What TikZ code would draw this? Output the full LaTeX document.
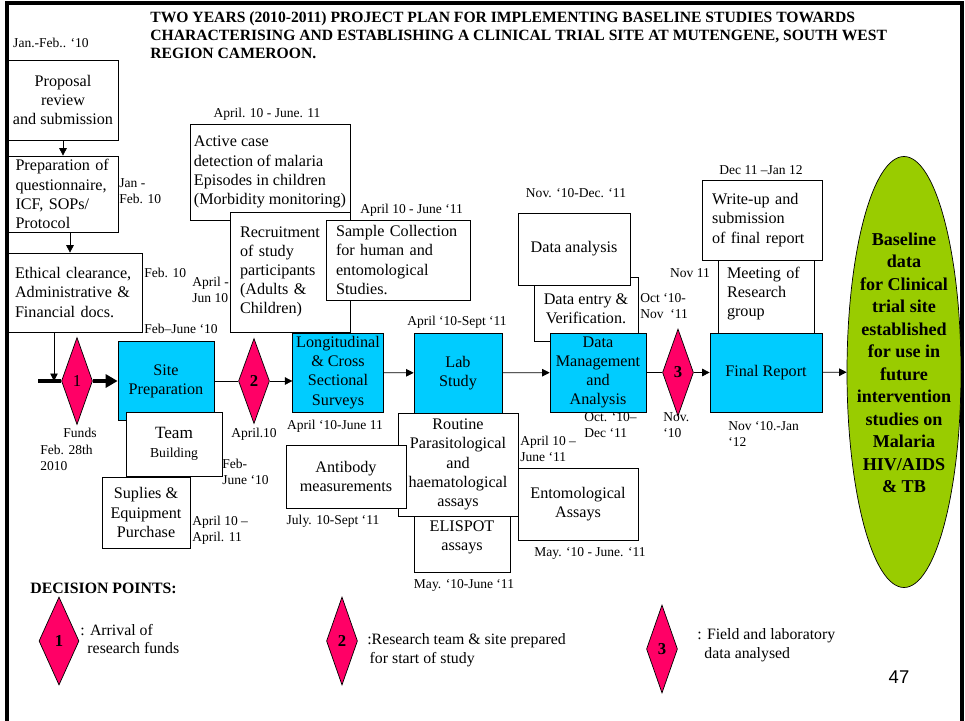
\documentclass[tikz,border=0pt]{standalone}
\usepackage{fontspec}
\setmainfont{Liberation Serif}
\newfontfamily\pagefont{Liberation Sans}
\usetikzlibrary{arrows.meta,shapes.geometric}

\definecolor{stagecyan}{HTML}{00CCFF}
\definecolor{pointred}{HTML}{FF0066}
\definecolor{goalgreen}{HTML}{99CC00}

\begin{document}
\begin{tikzpicture}[
    x=0.02cm, y=-0.02cm,
    >={Triangle[length=1.5mm,width=1.5mm]},
    dims/.style 2 args={minimum width=#1*0.02cm, minimum height=#2*0.02cm},
    box/.style={draw, fill=white, inner sep=2pt, align=center, font=\fontsize{9.2}{10.9}\selectfont},
    stage/.style={box, fill=stagecyan},
    point/.style={diamond, draw, fill=pointred, inner sep=0pt, font=\bfseries\fontsize{9.5}{11}\selectfont},
    goal/.style={ellipse, draw, fill=goalgreen, inner sep=0pt},
    date/.style={inner sep=0pt, align=left, font=\fontsize{7.7}{9.1}\selectfont},
    legend/.style={inner sep=0pt, align=left, anchor=west, font=\fontsize{9}{10.8}\selectfont}
]
\useasboundingbox (0,0) rectangle (965,721);
\draw[line width=2pt] (7,721) -- (7,3) -- (962,3) -- (962,721);

% title
\node[anchor=west, align=left, inner sep=0pt, font=\bfseries\fontsize{8.9}{10.2}\selectfont] (title) at (150,35)
    {TWO YEARS (2010-2011) PROJECT PLAN FOR IMPLEMENTING BASELINE STUDIES TOWARDS\\
     CHARACTERISING AND ESTABLISHING A CLINICAL TRIAL SITE AT MUTENGENE, SOUTH WEST\\
     REGION CAMEROON.};

% preparation column
\node[box, dims={110}{80}] (prop) at (63,100) {Proposal\\review\\and submission};
\node[box, dims={110}{76}, align=left, text width=1.9cm] (prep) at (63,194) {Preparation of\\questionnaire,\\ICF, SOPs/\\Protocol};
\node[box, dims={134}{79}, align=left, text width=2.4cm] (ethic) at (75,292.5) {Ethical clearance,\\Administrative \&\\Financial docs.};
\node[date] (dprop) at (51,43) {Jan.-Feb.. ‘10};
\node[date, anchor=west] (dprep) at (119,191) {Jan -\\Feb. 10};
\node[date, anchor=west] (dethic) at (144,273) {Feb. 10};
\node[date, anchor=west] (dsite) at (144,329) {Feb–June ‘10};

% site preparation
\node[stage, dims={96}{79}] (site) at (166,381) {Site\\Preparation};
\node[box, dims={96}{64}] (team) at (174,444) {{\fontsize{9.8}{11.5}\selectfont Team}\\{\fontsize{7.8}{9.5}\selectfont Building}};
\node[box, dims={88}{71}] (sup) at (146,512.5) {Suplies \&\\Equipment\\Purchase};
\node[date] (dfunds) at (80,433) {Funds};
\node[date, anchor=west] (dfeb) at (40,458) {Feb. 28th\\2010};
\node[date, anchor=west] (dteam) at (222,472) {Feb-\\June ‘10};
\node[date, anchor=west] (dsup) at (192,530) {April 10 –\\April. 11};
\node[date] (dtwo) at (254,434) {April.10};

% field work
\node[box, dims={160}{96}, align=left] (active) at (270,172) {Active case\\detection of malaria\\Episodes in children\\(Morbidity monitoring)};
\node[box, dims={120}{120}, align=left, text width=2.0cm] (recruit) at (290,272) {Recruitment\\of study\\participants\\(Adults \&\\Children)};
\node[box, dims={144}{80}, align=left, text width=2.48cm] (sample) at (398,260) {Sample Collection\\for human and\\entomological\\Studies.};
\node[stage, dims={88}{79}] (long) at (338,372.5) {Longitudinal\\\& Cross\\Sectional\\Surveys};
\node[date] (dactive) at (267,114) {April. 10 - June. 11};
\node[date, anchor=west] (drecruit) at (192,290) {April -\\Jun 10};
\node[date, anchor=west] (dsample) at (360,210) {April 10 - June ‘11};
\node[date] (dlong) at (335,426) {April ‘10-June 11};

% laboratory
\node[stage, dims={88}{80}] (lab) at (458,373) {Lab\\Study};
\node[box, dims={96}{70}] (elispot) at (462,537) {ELISPOT\\assays};
\node[box, dims={120}{103}] (routine) at (458,464.5) {Routine\\Parasitological\\and\\haematological\\assays};
\node[box, dims={120}{63}] (antibody) at (346,476.5) {Antibody\\measurements};
\node[box, dims={120}{72}] (ento) at (578,504) {Entomological\\Assays};
\node[date] (dlab) at (457,322) {April ‘10-Sept ‘11};
\node[date] (dantibody) at (333,521) {July. 10-Sept ‘11};
\node[date] (delispot) at (464,585) {May. ‘10-June ‘11};
\node[date, anchor=west] (droutine) at (520,449) {April 10 –\\June ‘11};
\node[date] (dento) at (590,553) {May. ‘10 - June. ‘11};

% data
\node[box, dims={104}{64}] (entry) at (586,309) {Data entry \&\\Verification.};
\node[box, dims={112}{72}] (analysis) at (574,249) {Data analysis};
\node[stage, dims={96}{79}] (dm) at (598,372.5) {Data\\Management\\and\\Analysis};
\node[date] (danalysis) at (576,193) {Nov. ‘10-Dec. ‘11};
\node[date, anchor=west] (dentry) at (640,306) {Oct ‘10-\\Nov \ ‘11};
\node[date, anchor=west] (ddm) at (584,425) {Oct. ‘10–\\Dec ‘11};
\node[date] (dmeet) at (690,273) {Nov 11};
\node[date, anchor=west] (dthree) at (663,425) {Nov.\\‘10};

% report
\node[box, dims={96}{79}, align=left, text width=1.56cm] (meet) at (766,293.5) {Meeting of\\Research\\group};
\node[box, dims={120}{80}, align=left, text width=2.0cm] (write) at (762,220) {Write-up and\\submission\\of final report};
\node[stage, dims={112}{79}] (final) at (766,372.5) {Final Report};
\node[date] (dwrite) at (761,170) {Dec 11 –Jan 12};
\node[date, anchor=west] (dfinal) at (728,434) {Nov ‘10.-Jan\\‘12};

\node[goal, dims={114}{431}] (goal) at (904,372) {};
\node[align=center, inner sep=0pt, font=\bfseries\fontsize{10.3}{12.8}\selectfont] (goaltext) at (904,363)
    {Baseline\\data\\for Clinical\\trial site\\established\\for use in\\future\\intervention\\studies on\\Malaria\\HIV/AIDS\\\& TB};

% decision points on the main line
\coordinate (start) at (38,381);
\node[point, dims={31}{87}, font=\fontsize{9.5}{11}\selectfont] (one) at (77,381) {1};
\node[point, dims={31}{85}] (two) at (254,381) {2};
\node[point, dims={31}{87}] (three) at (678,372.5) {3};

\draw[->] (prop.south) -- (prep.north);
\draw[->] ([xshift=0.14cm]prep.south) -- ([xshift=0.14cm]prep.south |- ethic.north);
\draw[->] ([xshift=-0.42cm]ethic.south) coordinate (e) -- (e |- start);
\draw[line width=2.3pt] (start) -- (one.west);
\draw[line width=2.3pt, -{Triangle[length=2.4mm,width=2.6mm]}] (one.east) -- (site.west);
\draw (site.east) -- (two.west);
\draw[->] (two.east) -- (two.east -| long.west);
\draw[->] (long) -- (lab);
\draw[->] (lab) -- (dm);
\draw (dm.east) -- (three.west);
\draw[->] (three.east) -- (final.west);
\draw[->] (final) -- (goal);

% legend
\node[legend, font=\bfseries\fontsize{9}{10.8}\selectfont] (dptitle) at (30,588) {DECISION POINTS:};
\node[point, dims={40}{88}] (lone) at (59,641) {1};
\node[point, dims={31}{88}] (ltwo) at (342,641) {2};
\node[point, dims={31}{88}] (lthree) at (662,649) {3};
\node[legend] (tone) at (80,639) {: Arrival of\\\hspace{0.45em}research funds};
\node[legend] (ttwo) at (367,650) {:Research team \& site prepared\\\hspace{0.15em}for start of study};
\node[legend] (tthree) at (697,645) {: Field and laboratory\\\hspace{0.45em}data analysed};
\node[inner sep=0pt, font=\pagefont\fontsize{10.5}{12}\selectfont] (page) at (899,677) {47};
\end{tikzpicture}
\end{document}
